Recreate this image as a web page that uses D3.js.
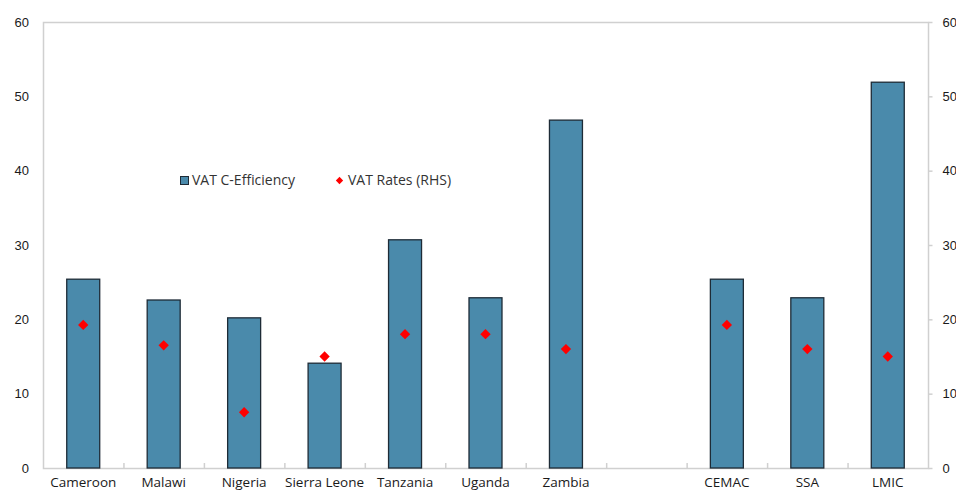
<!DOCTYPE html>
<html>
<head>
<meta charset="utf-8">
<script src="https://cdn.jsdelivr.net/npm/d3@7/dist/d3.min.js"></script>
<style>
  html, body { margin: 0; padding: 0; background: #fff; }
  svg { display: block; font-family: "Open Sans", "Noto Sans", sans-serif; }
</style>
</head>
<body>
<svg id="chart" width="956" height="491"></svg>
<script>
// VAT C-efficiency (bars, left axis) and standard VAT rates (diamonds, right axis)
const categories = ["Cameroon", "Malawi", "Nigeria", "Sierra Leone", "Tanzania", "Uganda", "Zambia", "", "CEMAC", "SSA", "LMIC"];
const cEfficiency = [25.4, 22.6, 20.2, 14.1, 30.7, 22.9, 46.8, null, 25.4, 22.9, 51.9];
const vatRates    = [19.25, 16.5, 7.5, 15, 18, 18, 16, null, 19.25, 16, 15];
const leftTicks  = [0, 10, 20, 30, 40, 50, 60];
const rightTicks = [0, 10, 20, 30, 40, 50, 60];

const svg = d3.select("#chart");
const margin = { left: 43, right: 28, top: 22, bottom: 23 };
const W = 956, H = 491;
const x0 = margin.left, x1 = W - margin.right;
const y0 = H - margin.bottom, y1 = margin.top;

const x = d3.scaleBand().domain(d3.range(categories.length)).range([x0, x1]).paddingInner(0).paddingOuter(0);
const yL = d3.scaleLinear().domain([0, 60]).range([y0, y1]);
const yR = d3.scaleLinear().domain([0, 60]).range([y0, y1]);

const gridColor = "#d0d0d0";
const textColor = "#1a1a1a";

// Plot frame
svg.append("rect")
  .attr("x", x0 + 0.5).attr("y", y1 + 0.5)
  .attr("width", x1 - x0).attr("height", y0 - y1)
  .attr("fill", "none").attr("stroke", gridColor).attr("stroke-width", 1.5);

// Left axis labels
const leftAxis = svg.append("g").attr("transform", `translate(${x0},0)`)
  .call(d3.axisLeft(yL).tickValues(leftTicks).tickSize(0).tickPadding(14));
leftAxis.select(".domain").remove();
leftAxis.selectAll("text").attr("fill", textColor).style("font-size", "13px");

// Right axis with outward ticks
const rightAxis = svg.append("g").attr("transform", `translate(${x1 + 0.5},0)`)
  .call(d3.axisRight(yR).tickValues(rightTicks).tickSize(4).tickPadding(10));
rightAxis.select(".domain").remove();
rightAxis.selectAll("line").attr("stroke", gridColor).attr("stroke-width", 1.5);
rightAxis.selectAll("text").attr("fill", textColor).style("font-size", "13px");

// Category separators on the bottom axis (inward ticks)
const sepPositions = d3.range(1, categories.length).map(i => x(i));
svg.append("g").selectAll("line").data(sepPositions).join("line")
  .attr("x1", d => d + 0.5).attr("x2", d => d + 0.5)
  .attr("y1", y0 - 5).attr("y2", y0)
  .attr("stroke", gridColor).attr("stroke-width", 1.5);

// Category labels
svg.append("g").selectAll("text").data(categories).join("text")
  .attr("x", (d, i) => x(i) + x.bandwidth() / 2)
  .attr("y", y0 + 19)
  .attr("text-anchor", "middle")
  .attr("fill", textColor)
  .style("font-size", "13.5px")
  .text(d => d);

// Bars
const barW = x.bandwidth() * 0.41;
svg.append("g").selectAll("rect")
  .data(cEfficiency.map((v, i) => ({ v, i })).filter(d => d.v !== null))
  .join("rect")
  .attr("x", d => x(d.i) + (x.bandwidth() - barW) / 2)
  .attr("y", d => yL(d.v))
  .attr("width", barW)
  .attr("height", d => yL(0) - yL(d.v))
  .attr("fill", "#4a8aab")
  .attr("stroke", "#1e2b36")
  .attr("stroke-width", 1.3);

// Diamonds for VAT rates
const diamond = d3.symbol().type(d3.symbolDiamond2).size(68);
svg.append("g").selectAll("path")
  .data(vatRates.map((v, i) => ({ v, i })).filter(d => d.v !== null))
  .join("path")
  .attr("transform", d => `translate(${x(d.i) + x.bandwidth() / 2},${yR(d.v)})`)
  .attr("d", diamond)
  .attr("fill", "#ff0000");

// Legend
const legend = svg.append("g");
legend.append("rect")
  .attr("x", 180.5).attr("y", 176.5).attr("width", 8).attr("height", 8)
  .attr("fill", "#4a8aab").attr("stroke", "#1e2b36").attr("stroke-width", 1);
legend.append("text")
  .attr("x", 192).attr("y", 185)
  .attr("fill", "#333").style("font-size", "14px")
  .text("VAT C-Efficiency");
legend.append("path")
  .attr("transform", "translate(339.5,180.5)")
  .attr("d", d3.symbol().type(d3.symbolDiamond2).size(34))
  .attr("fill", "#ff0000");
legend.append("text")
  .attr("x", 348).attr("y", 185)
  .attr("fill", "#333").style("font-size", "14px")
  .text("VAT Rates (RHS)");
</script>
</body>
</html>
